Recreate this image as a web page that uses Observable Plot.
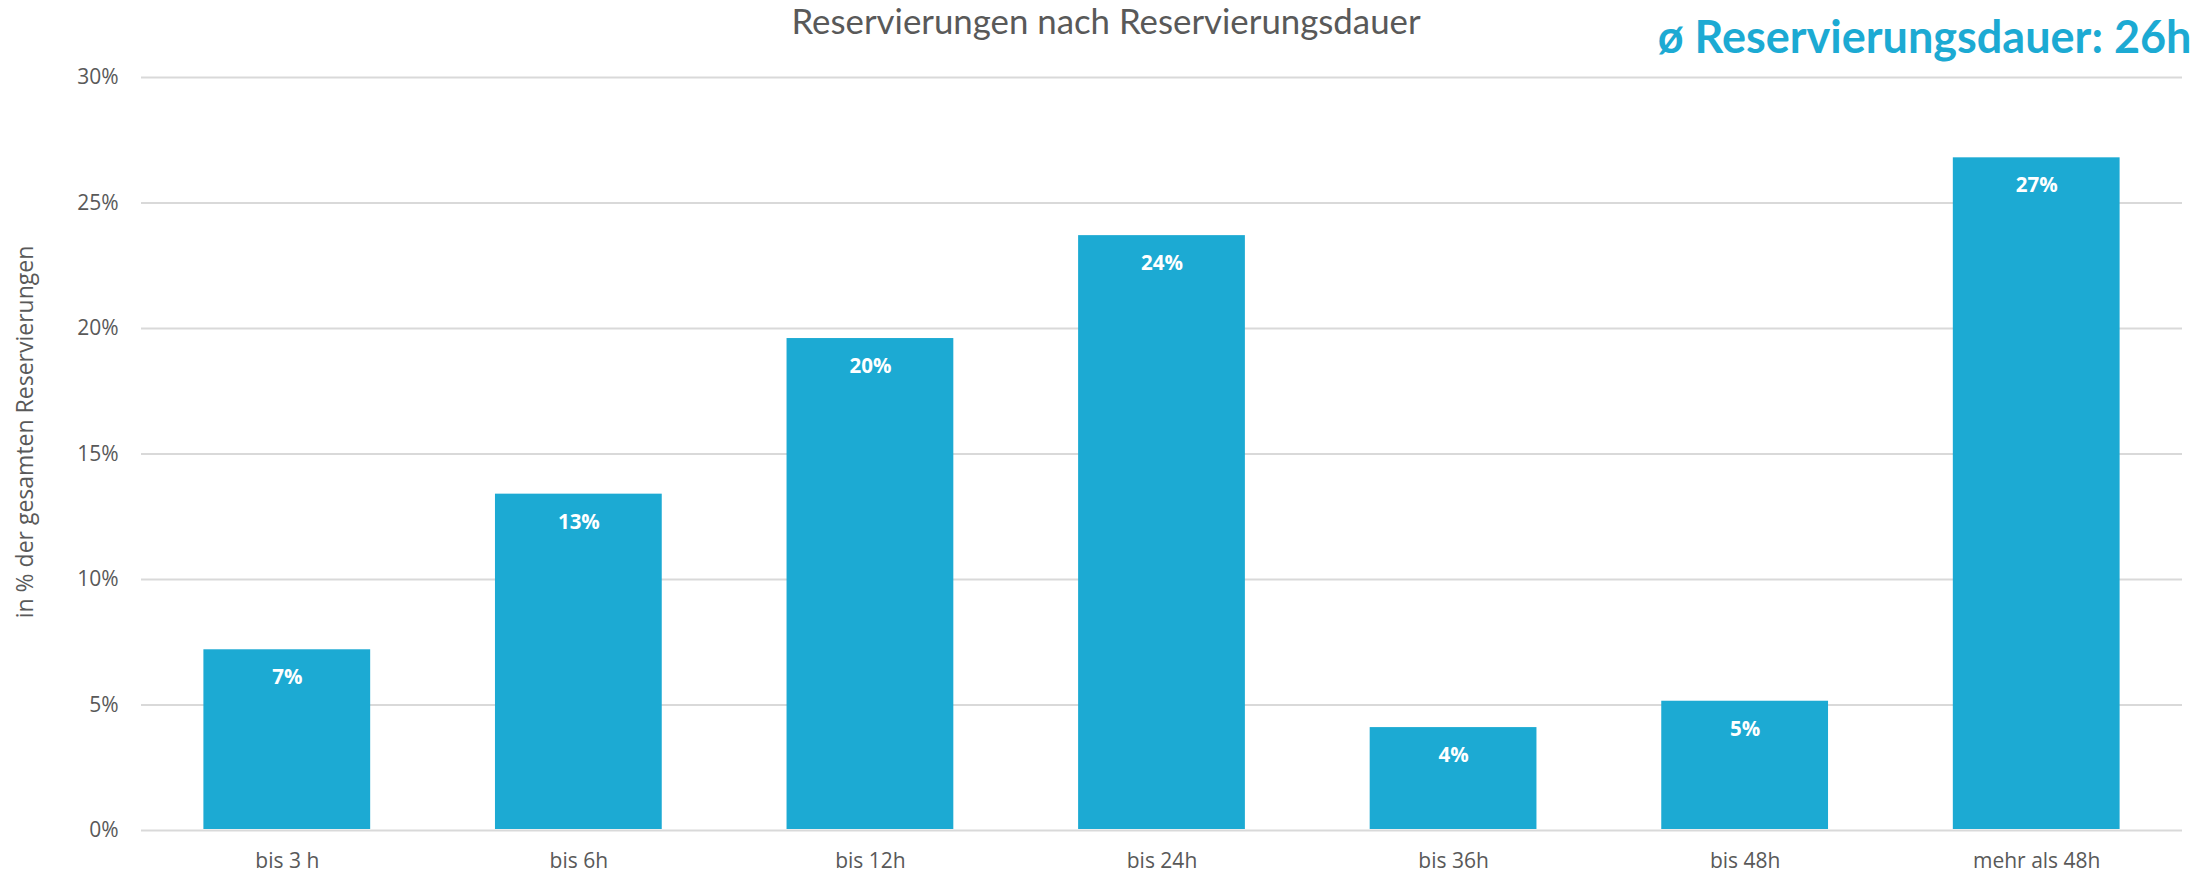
<!DOCTYPE html>
<html>
<head>
<meta charset="utf-8">
<script src="https://cdn.jsdelivr.net/npm/d3@7"></script>
<script src="https://cdn.jsdelivr.net/npm/@observablehq/plot@0.6"></script>
<style>
html,body{margin:0;padding:0;background:#fff;overflow:hidden}
svg{display:block}
</style>
</head>
<body>
<div id="chart"></div>
<script>
const categories = ["bis 3 h","bis 6h","bis 12h","bis 24h","bis 36h","bis 48h","mehr als 48h"];
const values = [7.2,13.4,19.6,23.7,4.1,5.15,26.8];
const yTicks = [0,5,10,15,20,25,30];
const chartTitle = "Reservierungen nach Reservierungsdauer";
const yTitle = "in % der gesamten Reservierungen";
const heading = "ø Reservierungsdauer: 26h";
const barColor = "#1CAAD3";
const textColor = "#595959";
const rows = categories.map((c,i)=>({c,v:values[i]}));

const plot = Plot.plot({
  width:2193,height:872,
  marginLeft:141,marginRight:11,marginTop:77,marginBottom:42,
  style:{fontFamily:"'Open Sans',sans-serif",background:"#fff",color:textColor,overflow:"visible"},
  x:{domain:categories,paddingInner:0.428,paddingOuter:0.214,align:0.5,round:false,label:null},
  y:{domain:[0,30],label:null},
  marks:[
    Plot.ruleY(yTicks,{stroke:"#d9d9d9",strokeWidth:2}),
    Plot.barY(rows,{x:"c",y:"v",fill:barColor,insetBottom:1}),
    Plot.axisX({tickSize:0,tickPadding:23,fontSize:21,fill:textColor,label:null}),
    Plot.axisY({ticks:yTicks,tickSize:0,tickPadding:23,fontSize:21,fill:textColor,label:null,tickFormat:d=>d+"%"}),
    Plot.text(rows,{x:"c",y:"v",text:d=>Math.round(d.v)+"%",dy:28,fill:"#fff",fontSize:20.5,fontWeight:700}),
    Plot.text([yTitle],{frameAnchor:"left",textAnchor:"middle",dx:-116,dy:-22,rotate:-90,fill:textColor,fontSize:23}),
    Plot.text([chartTitle],{frameAnchor:"top",dx:-56,dy:-68,fill:textColor,fontSize:34.8,fontFamily:"Lato"}),
    Plot.text([heading],{frameAnchor:"top-right",dx:9,dy:-56,fill:barColor,fontSize:45,fontWeight:700,fontFamily:"Lato"})
  ]
});
document.getElementById("chart").append(plot);
</script>
</body>
</html>
